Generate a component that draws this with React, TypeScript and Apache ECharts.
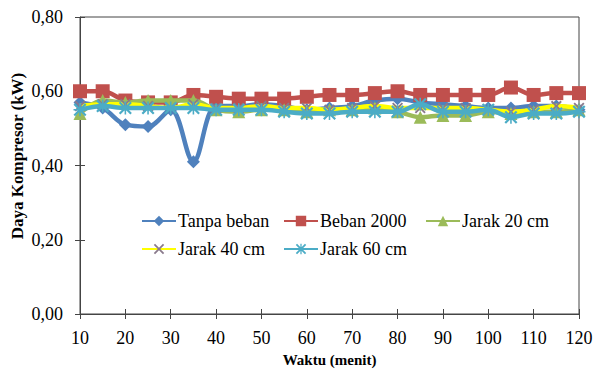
import React, { useEffect, useRef } from "react";
import * as echarts from "echarts";

const waktu = [10, 15, 20, 25, 30, 35, 40, 45, 50, 55, 60, 65, 70, 75, 80, 85, 90, 95, 100, 105, 110, 115, 120];
const tanpaBeban = [0.57, 0.555, 0.51, 0.505, 0.55, 0.41, 0.56, 0.56, 0.565, 0.56, 0.55, 0.555, 0.56, 0.575, 0.58, 0.57, 0.565, 0.56, 0.555, 0.555, 0.56, 0.56, 0.55];
const beban2000 = [0.6, 0.6, 0.575, 0.57, 0.57, 0.59, 0.585, 0.58, 0.58, 0.58, 0.585, 0.59, 0.59, 0.595, 0.6, 0.59, 0.59, 0.59, 0.59, 0.61, 0.59, 0.595, 0.595];
const jarak20 = [0.54, 0.575, 0.57, 0.575, 0.575, 0.575, 0.55, 0.545, 0.55, 0.55, 0.545, 0.55, 0.55, 0.555, 0.545, 0.53, 0.535, 0.535, 0.545, 0.54, 0.545, 0.545, 0.55];
const jarak40 = [0.56, 0.565, 0.565, 0.56, 0.555, 0.565, 0.555, 0.555, 0.56, 0.555, 0.555, 0.55, 0.555, 0.56, 0.555, 0.555, 0.555, 0.555, 0.55, 0.545, 0.55, 0.56, 0.555];
const jarak60 = [0.55, 0.56, 0.555, 0.555, 0.555, 0.555, 0.55, 0.55, 0.55, 0.545, 0.54, 0.54, 0.545, 0.545, 0.545, 0.565, 0.545, 0.545, 0.55, 0.53, 0.54, 0.54, 0.545];
const seriesNames = ["Tanpa beban", "Beban 2000", "Jarak 20 cm", "Jarak 40 cm", "Jarak 60 cm"];
const yTitle = "Daya Kompresor (kW)";
const xTitle = "Waktu (menit)";

const FONT = "Liberation Serif";

const crossPath =
  "path://M0,1.2 L1.2,0 L5,3.8 L8.8,0 L10,1.2 L6.2,5 L10,8.8 L8.8,10 L5,6.2 L1.2,10 L0,8.8 L3.8,5 Z";
const starPath =
  "path://M0,1.2 L1.2,0 L5,3.8 L8.8,0 L10,1.2 L6.2,5 L10,8.8 L8.8,10 L5,6.2 L1.2,10 L0,8.8 L3.8,5 Z M4.4,0 L5.6,0 L5.6,10 L4.4,10 Z M0,4.4 L10,4.4 L10,5.6 L0,5.6 Z";

export default function App() {
  const ref = useRef<HTMLDivElement>(null);
  useEffect(() => {
    if (!ref.current) return;
    const chart = echarts.init(ref.current, undefined, { renderer: "svg" });
    const pair = (arr: number[]) => waktu.map((x, i) => [x, arr[i]]);
    const mk = (name: string, data: number[], color: string, symbol: string, size: number, symColor: string, z: number) => ({
      name,
      type: "line",
      data: pair(data),
      smooth: 0.35,
      symbol,
      symbolSize: size,
      z,
      lineStyle: { color, width: 4.5 },
      itemStyle: { color: symColor, borderWidth: 0 },
    });
    const legendPos = [
      [141, 212],
      [283, 212],
      [425, 212],
      [141, 240],
      [283, 240],
    ];
    const txt = { fontFamily: FONT, fontSize: 18, fontWeight: "normal", fontStyle: "normal", color: "#000" };
    chart.setOption({
      animation: false,
      textStyle: { fontFamily: FONT },
      grid: {
        left: 80,
        right: 18,
        top: 17,
        bottom: 57,
        containLabel: false,
        outerBoundsMode: "none",
        show: true,
        borderColor: "#444",
        borderWidth: 1,
        backgroundColor: "transparent",
      },
      graphic: [
        {
          type: "text",
          x: 17,
          y: 156,
          rotation: Math.PI / 2,
          style: {
            text: yTitle,
            fontFamily: FONT,
            fontSize: 17,
            fontWeight: "bold",
            fill: "#000",
            align: "center",
            verticalAlign: "middle",
          },
        },
      ],
      legend: seriesNames.map((n, i) => ({
        data: [n],
        left: legendPos[i][0],
        top: legendPos[i][1],
        padding: 0,
        itemWidth: 34,
        itemHeight: 13,
        itemGap: 0,
        textStyle: { ...txt, padding: [0, 0, 0, -3] },
      })),
      xAxis: [
        {
          type: "value",
          min: 10,
          max: 120,
          interval: 10,
          name: xTitle,
          nameLocation: "middle",
          nameGap: 38,
          nameTextStyle: { fontFamily: FONT, fontSize: 15, fontWeight: "bold", color: "#000" },
          axisLine: { lineStyle: { color: "#444", width: 1 } },
          axisTick: { show: true, length: 5, lineStyle: { color: "#444" } },
          axisLabel: { ...txt, margin: 15 },
          splitLine: { show: false },
        },
        {
          type: "value",
          position: "bottom",
          min: 10,
          max: 120,
          interval: 10,
          axisLine: { show: false },
          axisTick: { show: true, inside: true, length: 5, lineStyle: { color: "#444" } },
          axisLabel: { show: false },
          splitLine: { show: false },
        },
      ],
      yAxis: [
        {
          type: "value",
          min: 0,
          max: 0.8,
          interval: 0.2,
          axisLine: { show: true, lineStyle: { color: "#444", width: 1 } },
          axisTick: { show: true, length: 5, lineStyle: { color: "#444" } },
          axisLabel: {
            ...txt,
            margin: 17,
            formatter: (v: number) => v.toFixed(2).replace(".", ","),
          },
          splitLine: { show: false },
        },
        {
          type: "value",
          position: "left",
          min: 0,
          max: 0.8,
          interval: 0.2,
          axisLine: { show: false },
          axisTick: { show: true, inside: true, length: 5, lineStyle: { color: "#444" } },
          axisLabel: { show: false },
          splitLine: { show: false },
        },
      ],
      series: [
        mk(seriesNames[0], tanpaBeban, "#4F81BD", "diamond", 13, "#4F81BD", 2),
        mk(seriesNames[1], beban2000, "#C0504D", "rect", 14, "#C0504D", 3),
        mk(seriesNames[2], jarak20, "#9BBB59", "triangle", 13, "#9BBB59", 4),
        mk(seriesNames[3], jarak40, "#FFFF00", crossPath, 11, "#8A7A8C", 5),
        mk(seriesNames[4], jarak60, "#4BACC6", starPath, 13, "#4BACC6", 6),
      ],
    });
    return () => chart.dispose();
  }, []);
  return <div ref={ref} style={{ width: 597, height: 371, position: "absolute", left: 0, top: 0 }} />;
}
